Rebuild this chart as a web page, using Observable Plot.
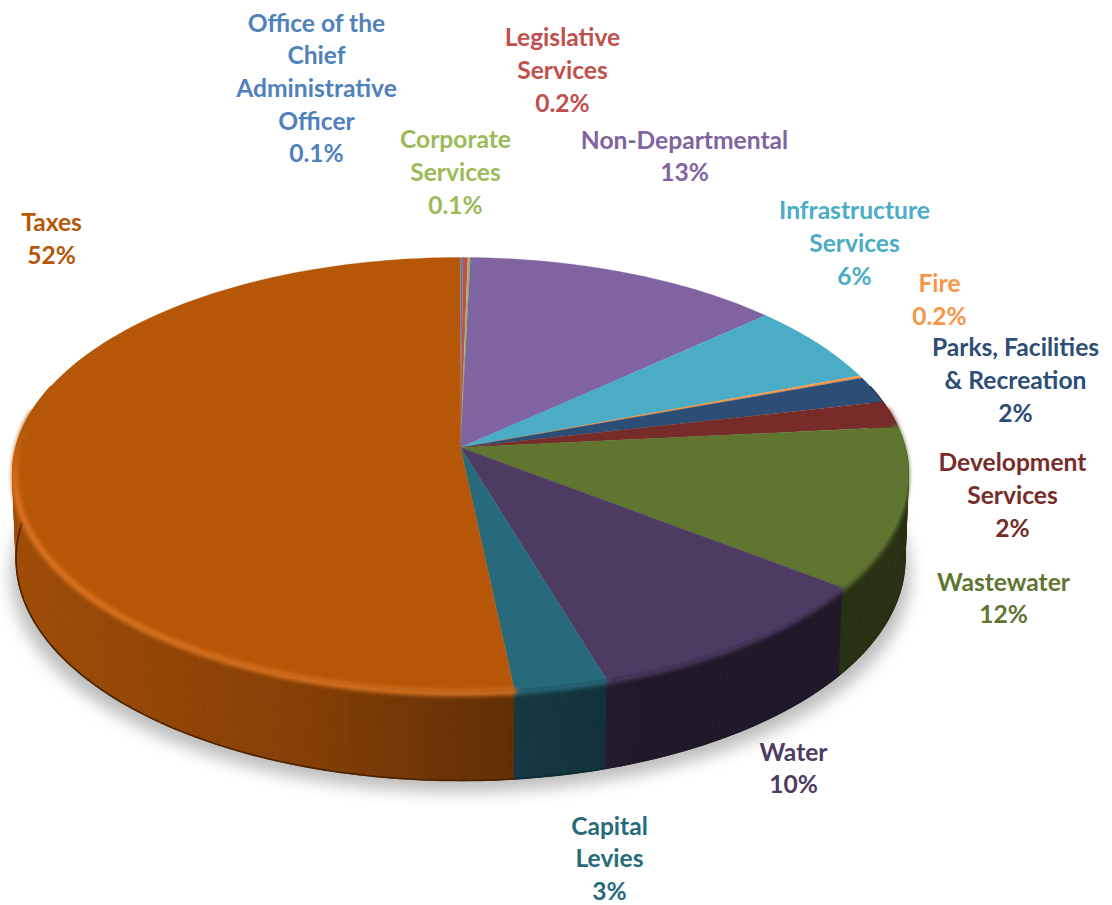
<!DOCTYPE html>
<html>
<head>
<meta charset="utf-8">
<script src="https://cdn.jsdelivr.net/npm/d3@7"></script>
<script src="https://cdn.jsdelivr.net/npm/@observablehq/plot@0.6"></script>
<style>
  html, body { margin: 0; padding: 0; background: #fff; }
  svg { display: block; }
</style>
</head>
<body>
<div id="chart"></div>
<script>
// Budget share by department, clockwise from twelve o'clock.
const departments = [
  "Office of the\nChief\nAdministrative\nOfficer",
  "Legislative\nServices",
  "Corporate\nServices",
  "Non-Departmental",
  "Infrastructure\nServices",
  "Fire",
  "Parks, Facilities\n& Recreation",
  "Development\nServices",
  "Wastewater",
  "Water",
  "Capital\nLevies",
  "Taxes"
];
const shares = [0.1, 0.2, 0.1, 13, 6, 0.2, 2, 2, 12, 10, 3, 52];
const palette = [
  "#4F81BD", "#C0504D", "#9BBB59", "#8064A2", "#4BACC6", "#F79646",
  "#2C4D75", "#772C2A", "#5F7530", "#4D3B62", "#276A7C", "#B65708"
];

// Label centres in chart units (origin at the pie's hub).
const labelX = [-144, 102, -5, 224, 394, 479, 555, 552, 543, 333, 149, -409];
const labelY = [-361, -379, -277, -293, -206, -149.5, -69, 46, 149, 319, 409.5, -210.5];

// Perspective of the tilted disc: unit circle to chart units.
const tilt = 0.1224, radiusX = 444.6, radiusY = 213.3;
const project = (theta) => {
  const u = Math.sin(theta), v = -Math.cos(theta), w = 1 - tilt * v;
  return {X: (radiusX * u) / w, Y: (radiusY * v) / w, v};
};
const lower = (theta) => {
  const p = project(theta);
  return {X: p.X * 0.992, Y: p.Y + 84 + 6 * Math.max(p.v, 0)};
};
const ramp = (t) => {
  const c = Math.min(1, Math.max(0, t));
  return c * c * (3 - 2 * c);
};

const total = d3.sum(shares);
const step = Math.PI / 180;
let running = 0;
const slices = shares.map((share, i) => {
  const start = (running / total) * 2 * Math.PI;
  running += share;
  const end = (running / total) * 2 * Math.PI;
  const n = Math.max(1, Math.ceil((end - start) / step));
  const thetas = d3.range(n + 1).map((k) => start + ((end - start) * k) / n);
  return {i, color: palette[i], thetas};
});

// Side wall lighting falls off from left to right.
const shade = d3.scaleLinear()
  .domain([-450, -160, 70, 140, 190])
  .range([0.88, 0.73, 0.52, 0.47, 0.42])
  .clamp(true);
const dimmed = (color, s) => {
  const c = d3.rgb(color);
  return d3.rgb(c.r * s, c.g * s, c.b * s).formatHex();
};

// Top faces: hub plus arc.
const topFaces = slices.flatMap((s) => [
  {X: 0, Y: 0, key: s.i, fill: s.color},
  ...s.thetas.map((t) => { const p = project(t); return {X: p.X, Y: p.Y, key: s.i, fill: s.color}; })
]);

// Side wall quads, one per arc step, so the shading can vary along the arc.
const wallQuads = slices.flatMap((s) =>
  d3.pairs(s.thetas).flatMap(([a, b], j) => {
    if (project((a + b) / 2).v < -0.3) return [];
    const pa = project(a), pb = project(b), qa = lower(a), qb = lower(b);
    const fill = dimmed(s.color, shade((pa.X + pb.X) / 2));
    const key = `${s.i}-${j}`;
    return [pa, pb, qb, qa].map((p) => ({X: p.X, Y: p.Y, key, fill}));
  })
);

// Bevel along the front of the disc; only the largest slice catches the light.
const frontArc = slices.flatMap((s) =>
  s.thetas.filter((t) => project(t).v > -0.18).map((t) => {
    const p = project(t);
    const lift = ramp((p.v + 0.15) / 0.4);
    const color = s.i === 11 ? d3.interpolateRgb(s.color, "#DC7522")(lift) : s.color;
    return {X: p.X * 0.995, Y: p.Y + 2.5 * lift, key: s.i, color};
  })
);
const lowerArc = slices.flatMap((s) =>
  s.thetas.filter((t) => project(t).v > -0.05).map((t) => {
    const q = lower(t);
    return {X: q.X, Y: q.Y, key: s.i, color: dimmed(s.color, 0.4)};
  })
);

// Soft contact shadow under the base.
const shadowOutline = d3.range(0, 361, 3).map((deg) => {
  const q = lower(deg * step);
  return {X: q.X * 1.012, Y: q.Y * 0.98 + 18};
});

const labels = departments.map((name, i) => ({
  text: `${name}\n${shares[i]}%`,
  x: labelX[i],
  y: labelY[i],
  color: palette[i]
}));

const chart = Plot.plot({
  width: 1112,
  height: 905,
  margin: 0,
  axis: null,
  x: {domain: [-460, 652], range: [0, 1112]},
  y: {domain: [-447, 458], range: [0, 905]},
  color: {type: "identity"},
  marks: [
    Plot.line(shadowOutline, {
      x: "X", y: "Y", fill: "#bdbdbd", stroke: "none", imageFilter: "blur(8px)"
    }),
    Plot.line(wallQuads, {
      x: "X", y: "Y", z: "key", fill: "fill", stroke: "fill", strokeWidth: 1.2, strokeLinejoin: "round"
    }),
    Plot.line(lowerArc, {
      x: "X", y: "Y", z: "key", stroke: "color", strokeWidth: 1.6, imageFilter: "blur(0.6px)"
    }),
    Plot.line(topFaces, {
      x: "X", y: "Y", z: "key", fill: "fill", stroke: "fill", strokeWidth: 0.3
    }),
    Plot.line(frontArc, {
      x: "X", y: "Y", z: "key", stroke: "color", strokeWidth: 6, imageFilter: "blur(2px)"
    }),
    Plot.text(labels, {
      x: "x", y: "y", text: "text", fill: "color",
      fontFamily: "Lato, Carlito, sans-serif", fontWeight: 700, fontSize: 24.6,
      lineHeight: 1.325, textAnchor: "middle", lineAnchor: "middle"
    })
  ]
});

document.getElementById("chart").append(chart);
</script>
</body>
</html>
